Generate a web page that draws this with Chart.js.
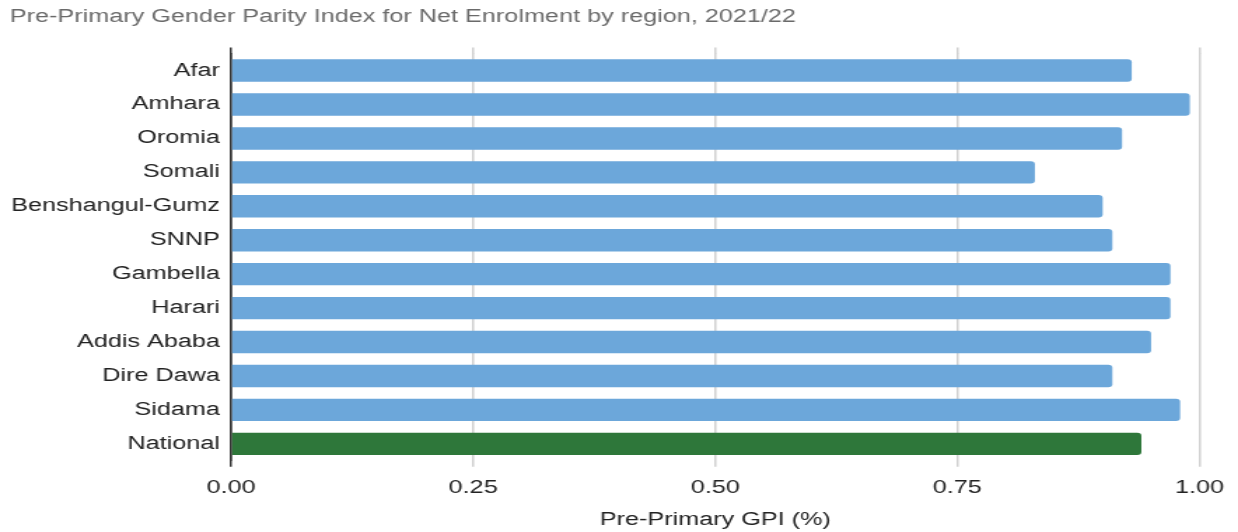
<!DOCTYPE html>
<html>
<head>
<meta charset="utf-8">
<script src="https://cdn.jsdelivr.net/npm/chart.js@4/dist/chart.umd.min.js"></script>
<style>
  html, body { margin: 0; padding: 0; background: #fff; overflow: hidden; }
  /* the reference is drawn wide: render at 884px and stretch it to 1238px */
  #wrap { width: 884px; height: 532px; transform: scaleX(1.4005); transform-origin: 0 0; }
</style>
</head>
<body>
<div id="wrap"><canvas id="chart1"></canvas></div>
<script>
// data
let regions = ["Afar", "Amhara", "Oromia", "Somali", "Benshangul-Gumz", "SNNP",
    "Gambella", "Harari", "Addis Ababa", "Dire Dawa", "Sidama", "National"];
let gpiValues = [0.93, 0.99, 0.92, 0.83, 0.90, 0.91, 0.97, 0.97, 0.95, 0.91, 0.98, 0.94];
let xTicks = [0, 0.25, 0.5, 0.75, 1];

let barColors = regions.map(r => r === "National" ? "#2e773a" : "#6ca7da");
let fontFam = "Liberation Sans, Arial, sans-serif";
let gridColor = c => c.index === 0 ? "#333" : "#d0d0d0";

let ctx = document.getElementById("chart1").getContext("2d");

let chart1 = new Chart(ctx, {
    type: "bar",
    data: {
        labels: regions,
        datasets: [{
            label: "Pre-Primary GPI",
            data: gpiValues,
            backgroundColor: barColors,
            borderRadius: 3,
            borderSkipped: "start",
            barPercentage: 0.66,
            categoryPercentage: 1
        }]
    },
    options: {
        indexAxis: "y",
        responsive: true,
        maintainAspectRatio: false,
        animation: false,
        layout: { padding: { left: 7, right: 24.5, top: 0, bottom: 1 } },
        plugins: {
            legend: { display: false },
            tooltip: { enabled: false },
            title: {
                display: true,
                text: "Pre-Primary Gender Parity Index for Net Enrolment by region, 2021/22",
                align: "start",
                color: "#6a6a6a",
                font: { family: fontFam, size: 18, weight: "normal" },
                padding: { top: 6, bottom: 20 }
            }
        },
        scales: {
            x: {
                min: 0,
                max: 1,
                afterBuildTicks: axis => { axis.ticks = xTicks.map(v => ({ value: v })); },
                ticks: {
                    callback: v => Number(v).toFixed(2),
                    color: "#222",
                    padding: 10,
                    font: { family: fontFam, size: 18 }
                },
                grid: { color: gridColor, lineWidth: 1.5, drawTicks: true, tickLength: 6 },
                border: { display: false },
                title: {
                    display: true,
                    text: "Pre-Primary GPI (%)",
                    color: "#222",
                    padding: { top: 1, bottom: 0 },
                    font: { family: fontFam, size: 18 }
                }
            },
            // top axis only to extend the grid lines a little above the plot
            x2: {
                position: "top",
                min: 0,
                max: 1,
                afterBuildTicks: axis => { axis.ticks = xTicks.map(v => ({ value: v })); },
                ticks: { display: false },
                grid: { color: gridColor, lineWidth: 1.5, drawOnChartArea: false, drawTicks: true, tickLength: 6 },
                border: { display: false }
            },
            y: {
                afterFit: axis => { axis.width = 158; },
                ticks: {
                    color: "#222",
                    padding: 8,
                    font: { family: fontFam, size: 18 }
                },
                grid: { display: false, drawTicks: false },
                border: { display: true, color: "#333", width: 1.5 }
            }
        }
    }
});
</script>
</body>
</html>
